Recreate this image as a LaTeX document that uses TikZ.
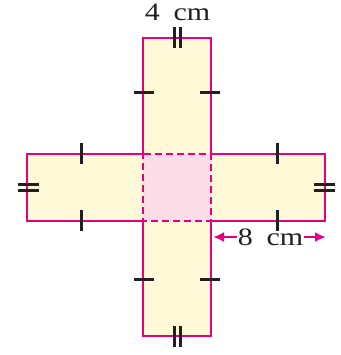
\documentclass[tikz,border=0pt]{standalone}
\usepackage{fontspec}
\setmainfont{Liberation Serif}
\newfontfamily\lblfont[FakeStretch=1.2]{Liberation Serif}
\usetikzlibrary{arrows.meta,positioning}
\definecolor{rubine}{HTML}{E6007E}
\definecolor{cream}{HTML}{FFF9D8}
\definecolor{blush}{HTML}{FCDCE6}
\definecolor{ink}{HTML}{231F20}

\begin{document}
\begin{tikzpicture}[x=1pt, y=-1pt,
  edge/.style={draw=rubine, line width=2.9pt, line join=miter},
  tickmark/.style={draw=ink, line width=3pt},
  lbl/.style={font=\lblfont\fontsize{25}{30}\selectfont, text=ink, inner sep=1pt, anchor=base},
  dimarr/.style={draw=rubine, line width=2.2pt, -{Latex[length=11pt,width=10pt]}}
]
\useasboundingbox (0,0) rectangle (340,355);

%% cross shape
\fill[cream] (143,38) -- (211,38) -- (211,154) -- (325,154) -- (325,221) -- (211,221)
  -- (211,336) -- (143,336) -- (143,221) -- (27,221) -- (27,154) -- (143,154) -- cycle;
\fill[blush] (143,154) rectangle (211,221);
\draw[edge] (143,154) -- (143,38) -- (211,38) -- (211,154) -- (325,154) -- (325,221) -- (211,221)
  -- (211,336) -- (143,336) -- (143,221) -- (27,221) -- (27,154) -- cycle;
\draw[edge, dash pattern=on 7pt off 4pt, dash phase=2pt] (143,154) rectangle (211,221);

%% equal-side marks
\foreach \y in {93,279} {
  \draw[tickmark] (134,\y) -- (154,\y);
  \draw[tickmark] (200,\y) -- (220,\y);
}
\foreach \x in {81,277} {
  \draw[tickmark] (\x,143) -- (\x,164);
  \draw[tickmark] (\x,210) -- (\x,231);
}
\foreach \d in {-3,3} {
  \draw[tickmark] (177.5+\d,27) -- (177.5+\d,48);
  \draw[tickmark] (177.5+\d,326) -- (177.5+\d,347);
  \draw[tickmark] (18,187.5+\d) -- (39,187.5+\d);
  \draw[tickmark] (314,187.5+\d) -- (335,187.5+\d);
}

%% labels
\node[lbl] (side) at (177.5,21) {4\hspace{0.25em} cm};
\node[lbl] (arm) at (270.5,245) {8\hspace{0.25em} cm};
\coordinate (armL) at (213,237);
\coordinate (armR) at (326,237);
\draw[dimarr] (armL -| arm.west) -- (armL);
\draw[dimarr] (armR -| arm.east) -- (armR);

\end{tikzpicture}
\end{document}
